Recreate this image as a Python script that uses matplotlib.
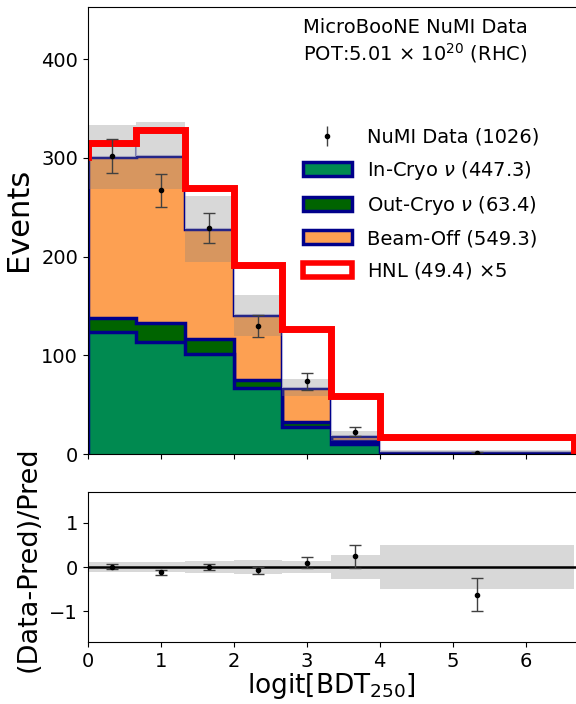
import numpy as np
import matplotlib.pyplot as plt
from matplotlib.patches import Patch

# binning in logit[BDT_250]
edges = np.array([0, 2/3, 4/3, 2, 8/3, 10/3, 4, 20/3])

# predicted event counts per bin
in_cryo = np.array([124.0, 114.0, 102.0, 67.0, 28.0, 10.3, 2.0])
out_cryo = np.array([14.0, 18.5, 14.7, 8.2, 4.3, 3.4, 0.3])
beam_off = np.array([162.9, 169.5, 111.3, 65.3, 35.1, 4.8, 0.4])
pred_err = np.array([32.0, 34.0, 33.0, 21.0, 8.7, 5.2, 1.35])
hnl = np.array([2.9, 5.3, 8.2, 10.2, 11.9, 8.0, 2.9])
hnl_scale = 5

# observed NuMI data
data = np.array([302, 267, 229, 130, 74, 23, 1])

c_in = '#008a50'
c_out = '#006400'
c_off = '#fda052'
c_edge = '#00008b'

centers = 0.5 * (edges[1:] + edges[:-1])
widths = np.diff(edges)
total = in_cryo + out_cryo + beam_off

fig = plt.figure(figsize=(5.76, 7.04), dpi=100)
ax = fig.add_axes([0.1523, 0.3547, 0.8477, 0.6358])
axr = fig.add_axes([0.1523, 0.0876, 0.8477, 0.2140])

# stacked backgrounds, drawn from the top layer down
levels = [total, in_cryo + out_cryo, in_cryo]
for lev, col in zip(levels, [c_off, c_out, c_in]):
    ax.stairs(lev, edges, baseline=0, fill=True, color=col, lw=0)
    ax.stairs(lev, edges, baseline=0, fill=False, edgecolor=c_edge, lw=2.5)

ax.bar(edges[:-1], hnl * hnl_scale, widths, bottom=total, align='edge', color='white',
       edgecolor=(0, 0, 0.55, 0.3), lw=1.5)

# prediction uncertainty
ax.bar(edges[:-1], 2 * pred_err, widths, bottom=total - pred_err, align='edge', color='grey', alpha=0.3, lw=0)

# HNL signal outline on top of the stack
top = total + hnl * hnl_scale
xs = np.repeat(edges, 2)
ys = np.concatenate([[total[0]], np.repeat(top, 2), [total[-1]]])
ax.plot(xs, ys, color='red', lw=5, solid_joinstyle='miter')

ax.errorbar(centers, data, yerr=np.sqrt(data), fmt='o', color='black', ecolor='0.25',
            ms=3, capsize=4, elinewidth=1)

ax.set_xlim(0, 6.69)
ax.set_ylim(0, 1.5 * data.max())
ax.set_xticks(range(7))
ax.set_xticklabels([])
ax.set_yticks([0, 100, 200, 300, 400])
ax.tick_params(labelsize=14)
ax.set_ylabel('Events', fontsize=22)
ax.yaxis.set_label_coords(-0.112, 0.525)
ax.spines['right'].set_visible(False)

ax.text(0.44, 0.975, 'MicroBooNE NuMI Data\nPOT:5.01 $\\times$ 10$^{20}$ (RHC)',
        transform=ax.transAxes, va='top', ha='left', fontsize=14)

handles = [
    ax.errorbar([], [], yerr=[], fmt='o', color='black', ecolor='0.25', ms=3, capsize=4, elinewidth=1),
    Patch(facecolor=c_in, edgecolor=c_edge, lw=2.5),
    Patch(facecolor=c_out, edgecolor=c_edge, lw=2.5),
    Patch(facecolor=c_off, edgecolor=c_edge, lw=2.5),
    Patch(facecolor='white', edgecolor='red', lw=4),
]
labels = [
    f'NuMI Data ({data.sum()})',
    f'In-Cryo $\\nu$ ({in_cryo.sum():.1f})',
    f'Out-Cryo $\\nu$ ({out_cryo.sum():.1f})',
    f'Beam-Off ({beam_off.sum():.1f})',
    f'HNL ({hnl.sum():.1f}) $\\times${hnl_scale}',
]
ax.legend(handles, labels, loc='center left', bbox_to_anchor=(0.425, 0.558), frameon=False,
          fontsize=14, handlelength=2.5, labelspacing=0.62, borderaxespad=0)

# ratio panel
ratio = (data - total) / total
ratio_err = np.sqrt(data) / total
rel_err = pred_err / total
axr.bar(edges[:-1], 2 * rel_err, widths, bottom=-rel_err, align='edge', color='grey', alpha=0.3, lw=0)
axr.axhline(0, color='black', lw=1.8)
axr.errorbar(centers, ratio, yerr=ratio_err, fmt='o', color='black', ecolor='0.25',
             ms=3, capsize=4, elinewidth=1)
axr.set_xlim(0, 6.69)
axr.set_ylim(-1.7, 1.7)
axr.set_xticks(range(7))
axr.set_yticks([-1, 0, 1])
axr.tick_params(labelsize=14)
axr.spines['right'].set_visible(False)
axr.set_xlabel('logit[BDT$_{250}$]', fontsize=19, labelpad=0)
axr.set_ylabel('(Data-Pred)/Pred', fontsize=19.5)
axr.yaxis.set_label_coords(-0.095, 0.555)

fig.savefig('out.png', dpi=100)
